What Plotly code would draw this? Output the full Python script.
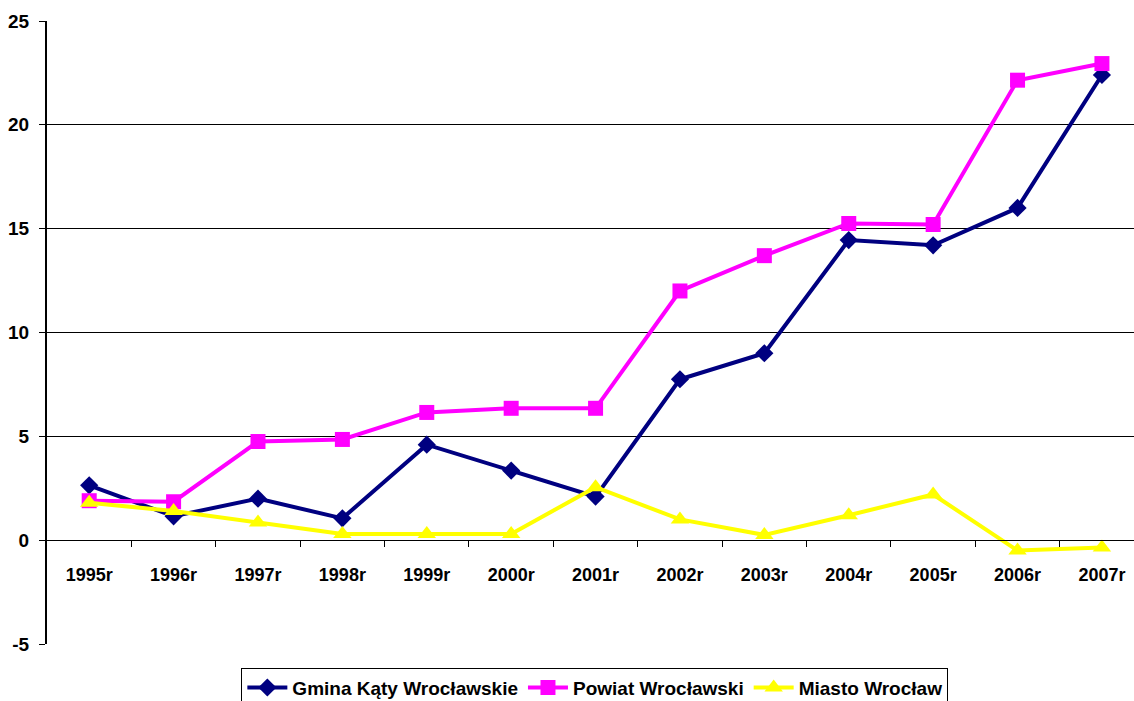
import plotly.graph_objects as go

years = ["1995r", "1996r", "1997r", "1998r", "1999r", "2000r", "2001r",
         "2002r", "2003r", "2004r", "2005r", "2006r", "2007r"]
gmina = [2.64, 1.15, 2.0, 1.05, 4.6, 3.35, 2.1, 7.75, 9.0, 14.45, 14.2, 16.0, 22.4]
powiat = [1.9, 1.85, 4.75, 4.85, 6.15, 6.35, 6.35, 12.0, 13.7, 15.25, 15.2, 22.15, 22.95]
miasto = [1.8, 1.4, 0.85, 0.3, 0.3, 0.3, 2.55, 1.0, 0.25, 1.2, 2.2, -0.5, -0.35]
y_ticks = [-5, 0, 5, 10, 15, 20, 25]
y_labels = ["-5", "0", "5", "10", "15", "20", "25"]

names = ["Gmina Kąty Wrocławskie", "Powiat Wrocławski", "Miasto Wrocław"]
colors = ["#000080", "#FF00FF", "#FFFF00"]
symbols = ["diamond", "square", "triangle-up"]
sizes = [14, 15, 16]

FONT = "Liberation Sans"
xs = list(range(len(years)))

fig = go.Figure()
for vals, name, col, sym, sz in zip([gmina, powiat, miasto], names, colors, symbols, sizes):
    fig.add_trace(go.Scatter(
        x=xs, y=vals, name=name, mode="lines+markers",
        line=dict(color=col, width=4),
        marker=dict(symbol=sym, size=sz, color=col, line=dict(width=0)),
    ))

fig.add_trace(go.Scatter(x=[None], y=[None], xaxis="x2", showlegend=False, hoverinfo="skip"))

zero_pos = 1.0 / 6.0

fig.update_layout(
    width=1134, height=701,
    margin=dict(l=47, r=0, t=21, b=57, autoexpand=False),
    plot_bgcolor="white", paper_bgcolor="white",
    font=dict(family=FONT, size=18, color="black"),
    showlegend=True,
    legend=dict(
        orientation="h", x=0.504, xanchor="center", y=-0.038, yanchor="top",
        bordercolor="black", borderwidth=1,
        font=dict(family=FONT, size=19, color="black", weight="bold"),
        itemwidth=40, tracegroupgap=0,
    ),
    xaxis=dict(
        range=[-0.5, 12.38], tickvals=xs, ticktext=years,
        showgrid=False, zeroline=False, showline=False, ticks="",
        tickfont=dict(family=FONT, size=18, color="black", weight="bold"),
        anchor="free", position=zero_pos, ticklabelstandoff=22, automargin=False,
    ),
    xaxis2=dict(
        range=[-0.5, 12.38], overlaying="x", anchor="free", position=zero_pos,
        tickvals=[i + 0.5 for i in xs], showticklabels=False,
        ticks="outside", ticklen=6, tickcolor="black", tickwidth=1,
        showline=True, linecolor="black", linewidth=1,
        showgrid=False, zeroline=False, automargin=False,
    ),
    yaxis=dict(
        range=[-5, 25], tickvals=y_ticks, ticktext=y_labels,
        showgrid=True, gridcolor="black", gridwidth=1,
        zeroline=False, showline=True, linecolor="black", linewidth=2,
        ticks="outside", ticklen=6, tickcolor="black", automargin=False,
        ticklabelstandoff=6,
        tickfont=dict(family=FONT, size=19, color="black", weight="bold"),
    ),
)

fig.write_html(
    "out.html",
    config={"displayModeBar": False},
    post_script="document.body.style.margin='0';document.body.style.overflow='hidden';",
)
